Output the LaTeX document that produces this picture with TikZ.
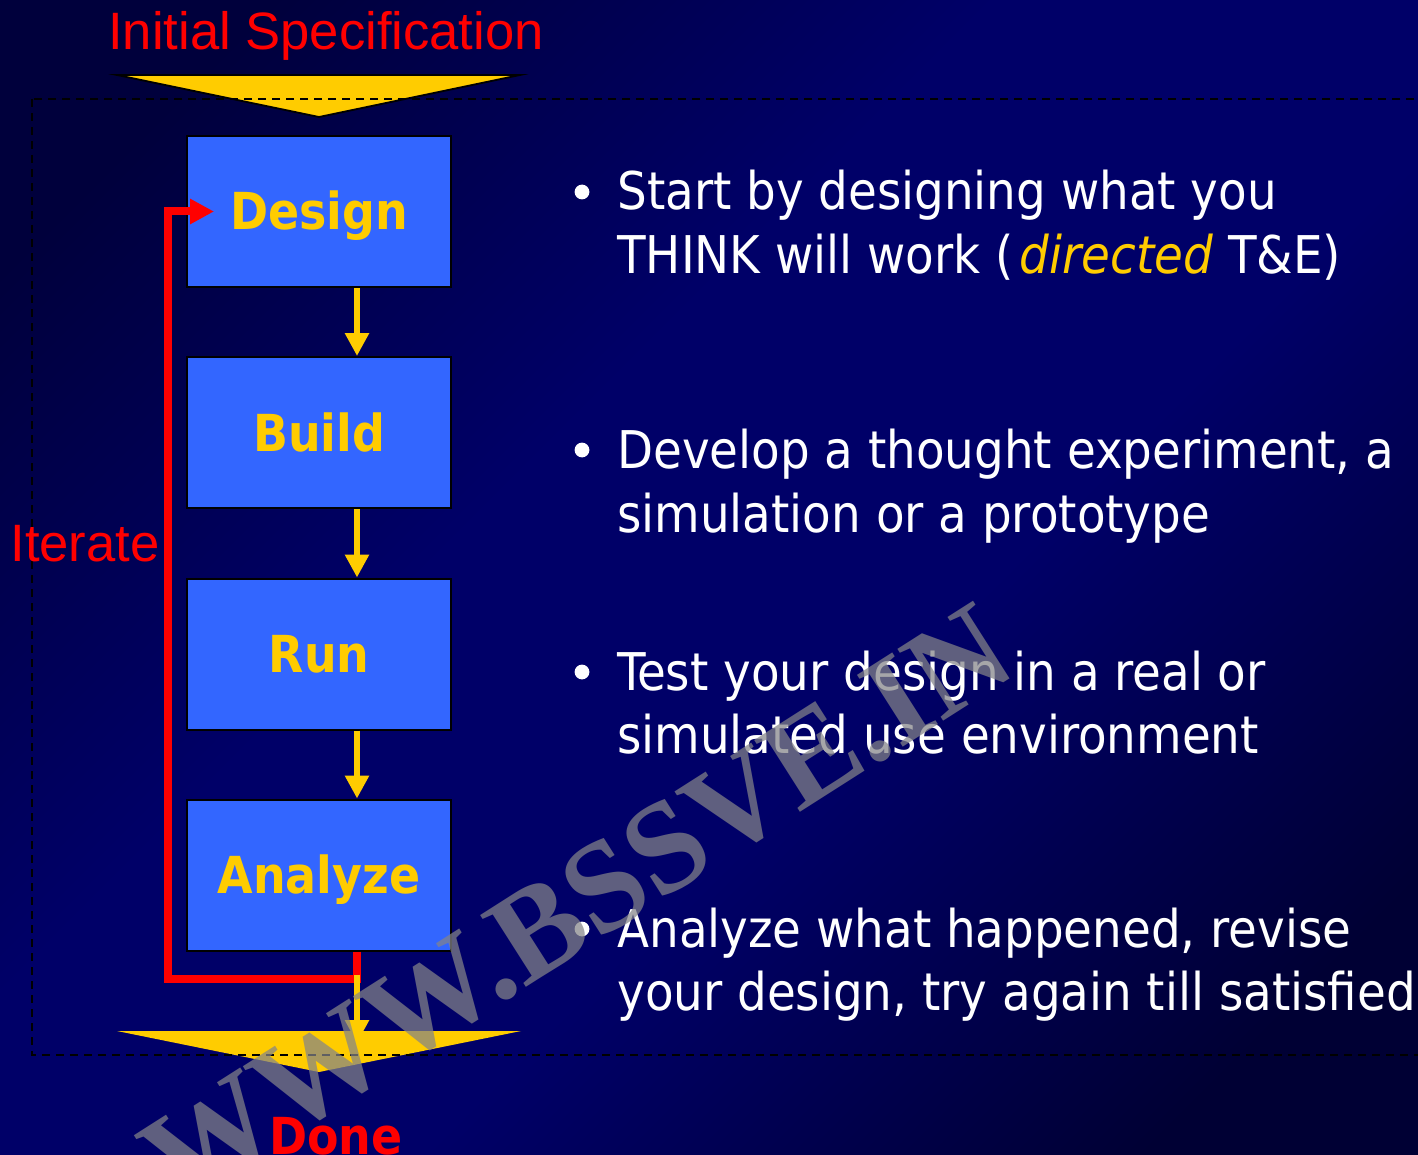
\documentclass[tikz,border=0pt]{standalone}
\usepackage{fontspec}
\usetikzlibrary{arrows.meta,calc}
\setmainfont{Liberation Sans}
\newfontfamily\tah{DejaVu Sans Condensed}[BoldFont={DejaVu Sans Condensed Bold},ItalicFont={DejaVu Sans Condensed Oblique}]
\newfontfamily\wmfont{Liberation Serif}

\definecolor{navy}{RGB}{0,0,104}
\definecolor{navydark}{RGB}{0,0,60}
\definecolor{navydeep}{RGB}{0,0,52}
\definecolor{boxblue}{RGB}{51,102,255}
\definecolor{gold}{RGB}{255,204,0}
\definecolor{loopred}{RGB}{255,0,0}
\definecolor{wmgrey}{RGB}{132,132,136}

% diagonal backdrop: dark corners, lighter band in between
\pgfdeclareverticalshading{backdrop}{100bp}{%
  color(0bp)=(navydeep); color(22bp)=(navydeep); color(42bp)=(navy);
  color(58bp)=(navy); color(78bp)=(navydark); color(100bp)=(navydark)}

\begin{document}
\begin{tikzpicture}[x=0.5pt,y=-0.5pt,
  stepbox/.style={draw=black, line width=1pt, fill=boxblue, minimum width=132pt,
    minimum height=75.5pt, inner sep=0pt, text=gold, text height=18.5pt, text depth=0pt,
    font=\tah\bfseries\fontsize{25.5}{30}\selectfont},
  flow/.style={draw=gold, line width=3pt, -{Triangle[width=11.5pt,length=11.5pt]}},
  loopline/.style={draw=loopred, line width=4pt, line join=miter,
    -{Triangle[width=12pt,length=12pt]}},
  funnel/.style={fill=gold},
  bullet/.style={circle, fill=white, minimum size=7.4pt, inner sep=0pt},
  btext/.style={anchor=base west, inner sep=0pt, text=white,
    font=\tah\fontsize{26}{31}\selectfont},
  redlabel/.style={anchor=base, inner sep=0pt, text=loopred,
    font=\fontsize{26.3}{30}\selectfont},
  wm/.style={text=wmgrey, opacity=0.72, inner sep=0pt,
    font=\wmfont\bfseries\fontsize{65}{70}\selectfont}]

\useasboundingbox (0,0) rectangle (1418,1155);

% background
\shade[shading=backdrop, shading angle=45] (0,0) rectangle (1418,1155);

% input and output funnels
\coordinate (specTip) at (319,117);
\coordinate (doneTip) at (319,1072);
\filldraw[funnel, draw=black, line width=0.9pt] (117,75) -- (520,75) -- (specTip) -- cycle;
\fill[funnel] (117,1031) -- (521,1031) -- (doneTip) -- cycle;

% process boundary
\draw[black, line width=1.2pt, dash pattern=on 4pt off 3pt] (32,99) rectangle (1440,1055);

% process steps
\node[stepbox] (design)  at (319,211.5) {Design};
\node[stepbox] (build)   at (319,432.5) {Build};
\node[stepbox] (run)     at (319,654)   {Run};
\node[stepbox] (analyze) at (319,875)   {Analyze};

% iteration loop
\coordinate (loopCorner) at (167.5,979);
\draw[loopline] ([xshift=19pt]analyze.south) |- (loopCorner) |- ([xshift=14pt]design.west);

% forward flow
\coordinate (doneIn) at (357,1043);
\draw[flow] ([xshift=19pt]design.south) -- ([xshift=19pt]build.north);
\draw[flow] ([xshift=19pt]build.south) -- ([xshift=19pt]run.north);
\draw[flow] ([xshift=19pt]run.south) -- ([xshift=19pt]analyze.north);
\draw[flow] ([xshift=19pt,yshift=-11.5pt]analyze.south) -- (doneIn);

% labels
\node[redlabel] (spec) at (326,50) {Initial Specification};
\node[redlabel] (iter) at (85,561) {Iterate};
\node[redlabel, font=\tah\bfseries\fontsize{25.5}{30}\selectfont] (done) at (336,1154) {Done};

% bullet points
\node[bullet] (d1) at (582,192) {};
\node[btext] (t1a) at (617,210) {Start by designing what you};
\node[btext] (t1b) at (617,273) {THINK will work (\kern3pt\textcolor{gold}{\itshape directed} T\&E)};
\node[bullet] (d2) at (582,450) {};
\node[btext] (t2a) at (617,468) {Develop a thought experiment, a};
\node[btext] (t2b) at (617,532) {simulation or a prototype};
\node[bullet] (d3) at (582,672) {};
\node[btext] (t3a) at (617,690) {Test your design in a real or};
\node[btext] (t3b) at (617,753) {simulated use environment};
\node[bullet] (d4) at (582,929) {};
\node[btext] (t4a) at (617,947) {Analyze what happened, revise};
\node[btext] (t4b) at (617,1010) {your design, try again till satisfied};

% watermark
\node[wm, rotate=32.5] (wmark) at (577,905) {WWW.BSSVE.IN};
\end{tikzpicture}
\end{document}
